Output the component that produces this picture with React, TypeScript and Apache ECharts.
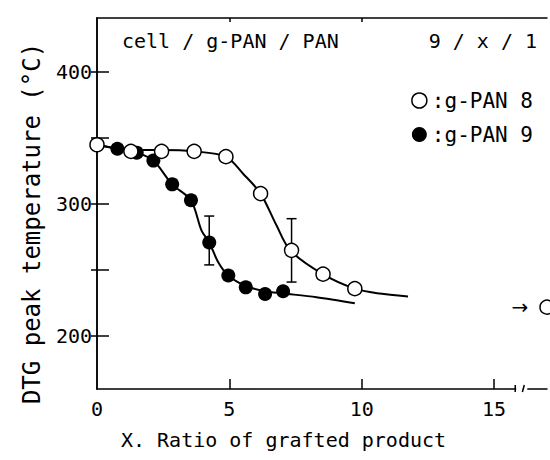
import React, { useEffect, useRef } from "react";
import * as echarts from "echarts";

// ---- data ----
const seriesNames = ["g-PAN 8", "g-PAN 9"];
const openPoints: [number, number][] = [
  [0, 345], [1.28, 340], [2.44, 340], [3.67, 340], [4.87, 336],
  [6.18, 308], [7.35, 265], [8.54, 247], [9.74, 236],
];
const filledPoints: [number, number][] = [
  [0.77, 342], [1.5, 339], [2.13, 333], [2.84, 315], [3.55, 303],
  [4.24, 271], [4.96, 246], [5.62, 237], [6.35, 232], [7.03, 234],
];
const openCurve: [number, number][] = [
  [0, 345], [1.28, 341], [2.44, 341], [3.67, 340], [4.87, 336], [5.52, 323],
  [6.18, 308], [6.78, 284], [7.3, 265], [8.53, 247], [9.74, 236], [10.68, 232.3], [11.75, 230],
];
const filledCurve: [number, number][] = [
  [0, 345], [0.77, 342], [1.5, 339], [2.13, 333], [2.84, 315], [3.55, 303],
  [3.95, 280], [4.24, 271], [4.58, 256], [4.96, 246], [5.62, 238], [6.35, 234],
  [7.03, 232.4], [8.29, 229.5], [9.74, 225],
];
const errorBars: [number, number, number][] = [
  [4.24, 254, 291],
  [7.35, 241, 289],
];
const referencePoint: [number, number][] = [[17, 222]];
const xTickLabels = [0, 5, 10, 15];
const xTicks = [5, 10, 15];
const xTopTicks = [5, 10];
const yTickLabels = [200, 300, 400];
const yTicks = [200, 250, 300, 350, 400];
const headerLeft = "cell / g-PAN / PAN";
const headerRight = "9 / x / 1";
const xTitle = "X. Ratio of grafted product";
const yTitle = "DTG peak temperature (°C)";

const FONT = "DejaVu Sans Mono";
const INK = "#000";

export default function App() {
  const ref = useRef<HTMLDivElement>(null);

  useEffect(() => {
    if (!ref.current) return;
    const chart = echarts.init(ref.current, null, { renderer: "svg" });

    const axisLine = { show: true, lineStyle: { color: INK, width: 1.5 } };

    const option: any = {
      animation: false,
      backgroundColor: "#fff",
      grid: { left: 97, right: 3, top: 18, bottom: 71 },
      legend: {
        orient: "vertical",
        right: 12,
        top: 85,
        itemGap: 13,
        itemWidth: 15,
        itemHeight: 15,
        formatter: (n: string) => ":" + n,
        textStyle: { fontFamily: FONT, fontSize: 21, color: INK },
        data: [
          { name: seriesNames[0], icon: "circle", itemStyle: { color: "#fff", borderColor: INK, borderWidth: 1.5 } },
          { name: seriesNames[1], icon: "circle", itemStyle: { color: INK } },
        ],
      },
      xAxis: [
        {
          type: "value",
          min: 0,
          max: 17,
          position: "bottom",
          axisLine,
          axisTick: { show: true, inside: true, length: 10, customValues: xTicks, lineStyle: { color: INK, width: 1.5 } },
          axisLabel: { customValues: xTickLabels, margin: 10, fontSize: 20, fontFamily: FONT, color: INK },
          splitLine: { show: false },
          name: xTitle,
          nameLocation: "middle",
          nameGap: 41,
          nameTextStyle: { fontFamily: FONT, fontSize: 20, color: INK, padding: [0, 77, 0, 0] },
        },
        {
          type: "value",
          min: 0,
          max: 17,
          position: "top",
          axisLine,
          axisTick: { show: true, inside: true, length: 4, customValues: xTopTicks, lineStyle: { color: INK, width: 1.5 } },
          axisLabel: { show: false },
          splitLine: { show: false },
        },
      ],
      yAxis: [
        {
          type: "value",
          min: 160,
          max: 441,
          position: "left",
          axisLine,
          axisTick: { show: true, inside: true, length: 12, customValues: yTicks, lineStyle: { color: INK, width: 1.5 } },
          axisLabel: { customValues: yTickLabels, margin: 5, fontSize: 20, fontFamily: FONT, color: INK },
          splitLine: { show: false },
          name: yTitle,
          nameLocation: "middle",
          nameGap: 53,
          nameTextStyle: { fontFamily: FONT, fontSize: 24, color: INK, padding: [0, 40, 0, 0] },
        },
        {
          type: "value",
          min: 160,
          max: 441,
          position: "right",
          axisLine,
          axisTick: { show: true, inside: true, length: 6, customValues: yTicks, lineStyle: { color: INK, width: 1.5 } },
          axisLabel: { show: false },
          splitLine: { show: false },
        },
      ],
      series: [
        {
          type: "line",
          name: "curve 8",
          data: openCurve,
          smooth: 0.3,
          symbol: "none",
          silent: true,
          lineStyle: { color: INK, width: 2 },
          z: 2,
        },
        {
          type: "line",
          name: "curve 9",
          data: filledCurve,
          smooth: 0.3,
          symbol: "none",
          silent: true,
          lineStyle: { color: INK, width: 2 },
          z: 2,
        },
        {
          type: "custom",
          name: "error",
          data: errorBars,
          z: 3,
          renderItem: (params: any, api: any) => {
            const x = api.value(0);
            const lo = api.coord([x, api.value(1)]);
            const hi = api.coord([x, api.value(2)]);
            const w = 5;
            const st = { stroke: INK, lineWidth: 1.5 };
            return {
              type: "group",
              children: [
                { type: "line", shape: { x1: lo[0], y1: lo[1], x2: hi[0], y2: hi[1] }, style: st },
                { type: "line", shape: { x1: lo[0] - w, y1: lo[1], x2: lo[0] + w, y2: lo[1] }, style: st },
                { type: "line", shape: { x1: hi[0] - w, y1: hi[1], x2: hi[0] + w, y2: hi[1] }, style: st },
              ],
            };
          },
        },
        {
          type: "scatter",
          name: seriesNames[1],
          data: filledPoints,
          symbol: "circle",
          symbolSize: 14,
          itemStyle: { color: INK, opacity: 1 },
          z: 4,
        },
        {
          type: "scatter",
          name: seriesNames[0],
          data: openPoints,
          symbol: "circle",
          symbolSize: 14,
          itemStyle: { color: "#fff", borderColor: INK, borderWidth: 1.5, opacity: 1 },
          z: 5,
        },
        {
          type: "scatter",
          name: "reference",
          data: referencePoint,
          symbol: "circle",
          symbolSize: 14,
          clip: false,
          itemStyle: { color: "#fff", borderColor: INK, borderWidth: 1.5, opacity: 1 },
          label: { show: true, position: "left", distance: 11, formatter: "→", fontSize: 20, fontFamily: "DejaVu Sans", color: INK },
          z: 5,
        },
      ],
    };
    chart.setOption(option);

    // axis break marks and header texts
    const p = (x: number, y: number) => chart.convertToPixel({ gridIndex: 0 } as any, [x, y]) as number[];
    const a = p(15.8, 160);
    const b = p(16.07, 160);
    const c = p(16.18, 160);
    const st = { stroke: INK, lineWidth: 1.5 };
    chart.setOption({
      graphic: [
        { type: "rect", shape: { x: a[0] + 1, y: a[1] - 3, width: c[0] - a[0] + 1, height: 6 }, style: { fill: "#fff" }, z: 100 },
        { type: "line", shape: { x1: a[0], y1: a[1] - 4, x2: a[0], y2: a[1] + 3 }, style: st, z: 101 },
        { type: "line", shape: { x1: b[0], y1: b[1] + 3, x2: c[0] - 1, y2: c[1] - 4 }, style: st, z: 101 },
        {
          type: "text",
          left: 122,
          top: 31,
          style: { text: headerLeft, fontFamily: FONT, fontSize: 20, fill: INK },
        },
        {
          type: "text",
          right: 13,
          top: 31,
          style: { text: headerRight, fontFamily: FONT, fontSize: 20, fill: INK },
        },
      ],
    });

    return () => chart.dispose();
  }, []);

  return <div ref={ref} style={{ width: 550, height: 460, position: "absolute", left: 0, top: 0 }} />;
}
